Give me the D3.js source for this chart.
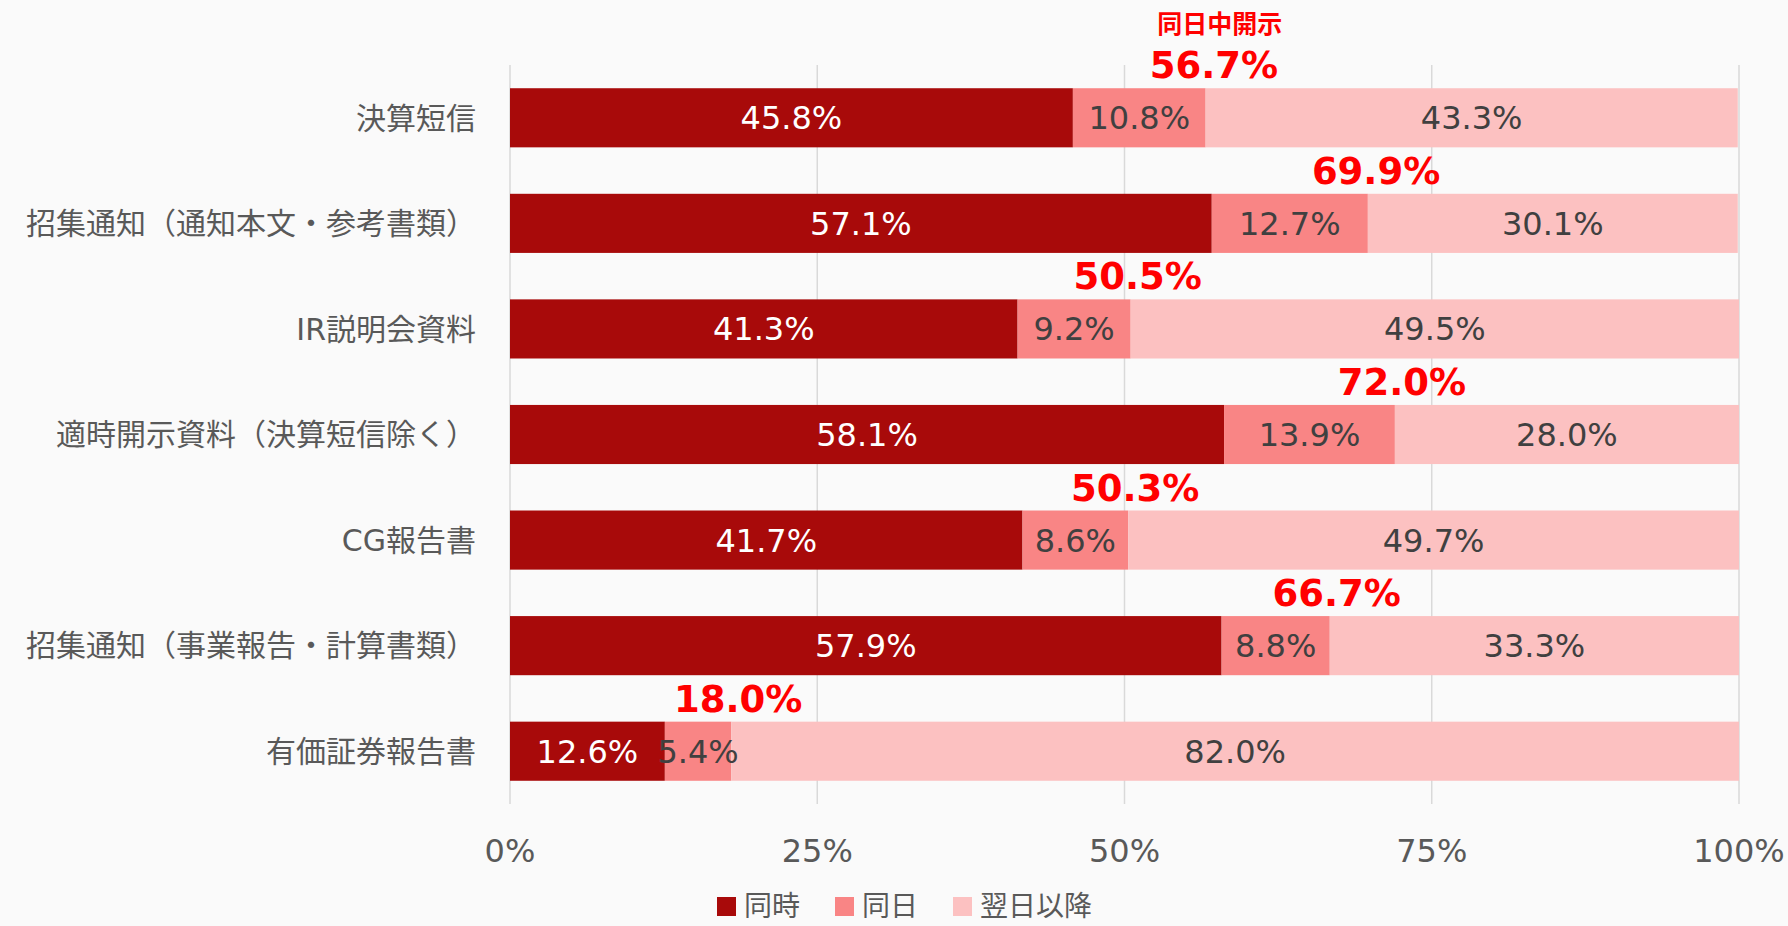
<!DOCTYPE html>
<html>
<head>
<meta charset="utf-8">
<script src="https://cdn.jsdelivr.net/npm/d3@7"></script>
<style>
  body { margin: 0; background: #fafafa; }
  text { font-family: "DejaVu Sans", "Noto Sans CJK JP", sans-serif; }
</style>
</head>
<body>
<div id="chart"></div>
<script>
const categories = ['決算短信', '招集通知（通知本文・参考書類）', 'IR説明会資料', '適時開示資料（決算短信除く）', 'CG報告書', '招集通知（事業報告・計算書類）', '有価証券報告書']
const seriesNames = ['同時', '同日', '翌日以降']
const doujiValues = [45.8, 57.1, 41.3, 58.1, 41.7, 57.9, 12.6]
const dojitsuValues = [10.8, 12.7, 9.2, 13.9, 8.6, 8.8, 5.4]
const yokujitsuValues = [43.3, 30.1, 49.5, 28.0, 49.7, 33.3, 82.0]
const sameDayTotals = [56.7, 69.9, 50.5, 72.0, 50.3, 66.7, 18.0]
const tickValues = [0, 25, 50, 75, 100]

const colors = ['#a80a0a', '#f98585', '#fcc1c1']
const labelColors = ['#ffffff', '#404040', '#404040']

const width = 1788, height = 926
const plotLeft = 510, plotRight = 1739, plotTop = 65, plotBottom = 804

const svg = d3.select('#chart').append('svg')
  .attr('width', width)
  .attr('height', height)

svg.append('rect').attr('width', width).attr('height', height).attr('fill', '#fafafa')

const x = d3.scaleLinear().domain([0, 100]).range([plotLeft, plotRight])
const y = d3.scaleBand().domain(categories).range([plotTop, plotBottom]).paddingInner(0.44).paddingOuter(0.22)

// gridlines
svg.selectAll('.grid')
  .data(tickValues)
  .join('line')
  .attr('class', 'grid')
  .attr('x1', d => x(d)).attr('x2', d => x(d))
  .attr('y1', plotTop).attr('y2', plotBottom)
  .attr('stroke', '#d9d9d9')
  .attr('stroke-width', 1.5)

// stacked data
const rows = categories.map((c, i) => ({cat: c, vals: [doujiValues[i], dojitsuValues[i], yokujitsuValues[i]]}))
const segs = []
rows.forEach(r => {
  let acc = 0
  r.vals.forEach((v, k) => {
    segs.push({cat: r.cat, k: k, v: v, x0: acc, x1: acc + v})
    acc += v
  })
})

svg.selectAll('.seg')
  .data(segs)
  .join('rect')
  .attr('class', 'seg')
  .attr('x', d => x(d.x0))
  .attr('width', d => x(Math.min(d.x1, 100)) - x(d.x0))
  .attr('y', d => y(d.cat))
  .attr('height', y.bandwidth())
  .attr('fill', d => colors[d.k])

svg.selectAll('.seglabel')
  .data(segs)
  .join('text')
  .attr('class', 'seglabel')
  .attr('x', d => x((d.x0 + Math.min(d.x1, 100)) / 2))
  .attr('y', d => y(d.cat) + y.bandwidth() / 2)
  .attr('dy', '0.36em')
  .attr('text-anchor', 'middle')
  .attr('font-size', '32px')
  .attr('fill', d => labelColors[d.k])
  .text(d => d.v.toFixed(1) + '%')

// category labels
svg.selectAll('.cat')
  .data(categories)
  .join('text')
  .attr('class', 'cat')
  .attr('x', plotLeft - 34)
  .attr('y', d => y(d) + y.bandwidth() / 2)
  .attr('dy', '0.36em')
  .attr('text-anchor', 'end')
  .attr('font-size', '30px')
  .attr('fill', '#595959')
  .text(d => d)

// x axis labels
svg.selectAll('.tick')
  .data(tickValues)
  .join('text')
  .attr('class', 'tick')
  .attr('x', d => x(d))
  .attr('y', 862)
  .attr('text-anchor', 'middle')
  .attr('font-size', '32px')
  .attr('fill', '#595959')
  .text(d => d + '%')

// same-day totals
svg.selectAll('.total')
  .data(sameDayTotals)
  .join('text')
  .attr('class', 'total')
  .attr('x', d => x(d) + 7)
  .attr('y', (d, i) => y(categories[i]) - 10)
  .attr('text-anchor', 'middle')
  .attr('font-size', '37px')
  .attr('font-weight', 'bold')
  .attr('fill', '#ff0000')
  .text(d => d.toFixed(1) + '%')

svg.append('text')
  .attr('x', x(sameDayTotals[0]) + 13)
  .attr('y', 33)
  .attr('text-anchor', 'middle')
  .attr('font-size', '25px')
  .attr('font-weight', 'bold')
  .attr('fill', '#ff0000')
  .text('同日中開示')

// legend
const legendX = [717, 835, 953]
const legend = svg.selectAll('.legend')
  .data(seriesNames)
  .join('g')
  .attr('class', 'legend')
  .attr('transform', (d, i) => `translate(${legendX[i]},897)`)

legend.append('rect')
  .attr('width', 19).attr('height', 19)
  .attr('fill', (d, i) => colors[i])

legend.append('text')
  .attr('x', 27)
  .attr('y', 9)
  .attr('dy', '0.36em')
  .attr('font-size', '28px')
  .attr('fill', '#595959')
  .text(d => d)
</script>
</body>
</html>
